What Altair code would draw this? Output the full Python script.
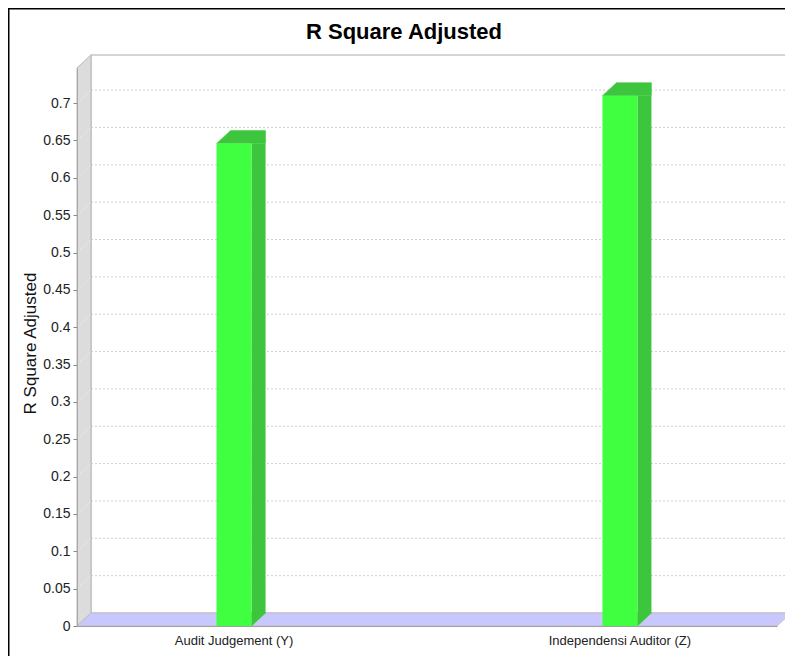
import altair as alt
import pandas as pd

# ---- data ----
categories = ["Audit Judgement (Y)", "Independensi Auditor (Z)"]
values = [0.646, 0.710]
tick_values = [0.0, 0.05, 0.1, 0.15, 0.2, 0.25, 0.3, 0.35, 0.4, 0.45,
               0.5, 0.55, 0.6, 0.65, 0.7]
axis_max = 0.747
chart_title = "R Square Adjusted"
y_title = "R Square Adjusted"

# ---- geometry / style ----
W, H = 700, 558
DX, DY = 14, 13
BW = 35
FRONT = "#40FF40"
DARK = "#3DC63D"
FONT = "Liberation Sans"
PAD = {"left": 69, "top": 60, "right": 8, "bottom": 30}

bars = pd.DataFrame({"cat": categories, "v": values})
grid_df = pd.DataFrame({"v": tick_values[1:]})
dummy = alt.Data(values=[{"a": 1}])

xscale = alt.Scale(domain=categories, paddingInner=0.5, paddingOuter=0.157)
yscale = alt.Scale(domain=[0, axis_max], nice=False, zero=True)

x_axis = alt.Axis(title=None, labelAngle=0, ticks=False, grid=False,
                  domain=True, domainColor="#A0A0A0",
                  labelPadding=8, labelFontSize=13, labelFont=FONT,
                  labelColor="#222222", zindex=1)
y_axis = alt.Axis(values=tick_values, format=".2~f", grid=False,
                  title=y_title, titleX=-47, titleY=275,
                  titleAngle=270, titleAlign="center",
                  titleBaseline="middle", titleFontSize=17,
                  titleFont=FONT, titleFontWeight="normal",
                  titleColor="#111111",
                  labelFontSize=14, labelFont=FONT,
                  labelColor="#222222", labelPadding=3,
                  tickSize=4, tickColor="#888888",
                  domain=True, domainColor="#A8A8A8", zindex=1)


def X():
    return alt.X("cat:N", scale=xscale, sort=categories, axis=x_axis)


def Y(field="v"):
    return alt.Y(f"{field}:Q", scale=yscale, axis=y_axis)


def shape_path(points, cx, cy, r):
    parts = []
    for i, (x, y) in enumerate(points):
        parts.append(("M" if i == 0 else "L") + f"{(x - cx) / r:.5f},{(y - cy) / r:.5f}")
    return " ".join(parts) + " Z"


def poly_layer(points, fill, stroke=None, sw=0.0):
    xs = [p[0] for p in points]
    ys = [p[1] for p in points]
    cx = (min(xs) + max(xs)) / 2
    cy = (min(ys) + max(ys)) / 2
    r = max(max(xs) - min(xs), max(ys) - min(ys)) / 2
    kw = dict(shape=shape_path(points, cx, cy, r), size=(2 * r) ** 2,
              filled=True, fill=fill, opacity=1)
    if stroke:
        kw.update(stroke=stroke, strokeWidth=sw)
    else:
        kw.update(strokeWidth=0)
    return alt.Chart(dummy).mark_point(**kw).encode(
        x=alt.value(cx), y=alt.value(cy))


# chart border
border = alt.Chart(dummy).mark_rect(
    fillOpacity=0, stroke="black", strokeWidth=3).encode(
    x=alt.value(-69), x2=alt.value(W + 40),
    y=alt.value(-60), y2=alt.value(H + 80))

# back wall
back = alt.Chart(dummy).mark_rect(
    fill="white", stroke="#C8C8C8", strokeWidth=1.5).encode(
    x=alt.value(DX), x2=alt.value(W + DX),
    y=alt.value(-DY), y2=alt.value(H - DY))

# grid lines on back wall
grid = alt.Chart(grid_df).mark_rule(
    yOffset=-DY, strokeDash=[2, 2], color="#D0D0D0", strokeWidth=1).encode(
    y=Y(), x=alt.value(DX), x2=alt.value(W + DX))

# left wall
left_wall = poly_layer([(0, H), (DX, H - DY), (DX, -DY), (0, 0)],
                       "#DCDCDC", "#B8B8B8", 1)

wall_diag = alt.Chart(grid_df).mark_rule(
    y2Offset=-DY, strokeDash=[2, 2], color="#EFEFEF", strokeWidth=1).encode(
    y=Y(), y2=alt.Y2("v:Q"),
    x=alt.value(0), x2=alt.value(DX))

# floor
floor = poly_layer([(0, H), (DX, H - DY), (W + DX, H - DY), (W, H)],
                   "#C8C8FF", "#C0C0C0", 1)

half = BW / 2
# side faces (rect part)
side = alt.Chart(bars).mark_bar(
    size=DX, xOffset=half + DX / 2, y2Offset=-DY, color=DARK).encode(
    x=X(), y=Y(), y2=alt.datum(0))

# bottom triangle of side face
tri_pts = [(half, -DY), (half + DX, -DY), (half, 0)]
r_tri = half + DX
bottom_tri = alt.Chart(bars).mark_point(
    shape=shape_path(tri_pts, 0, 0, r_tri), size=(2 * r_tri) ** 2,
    filled=True, fill=DARK, stroke=DARK, strokeWidth=0.5, opacity=1).encode(
    x=X(), y=Y("z")).transform_calculate(z="0")

# top face (+ top triangle of side face)
top_pts = [(-half, 0), (half + DX, 0), (half + DX, -DY), (-half + DX, -DY)]
r_top = half + DX
top_face = alt.Chart(bars).mark_point(
    shape=shape_path(top_pts, 0, 0, r_top), size=(2 * r_top) ** 2,
    filled=True, fill=DARK, stroke=DARK, strokeWidth=0.5, opacity=1).encode(
    x=X(), y=Y())

# front faces
front = alt.Chart(bars).mark_bar(size=BW, color=FRONT).encode(x=X(), y=Y())

title = alt.Chart(dummy).mark_text(
    text=chart_title, fontSize=22, fontWeight="bold", font=FONT,
    align="center", baseline="alphabetic", color="black").encode(
    x=alt.value(327), y=alt.value(-29))

chart = alt.layer(
    border, back, grid, left_wall, wall_diag, floor,
    side, bottom_tri, top_face, front, title
).properties(
    width=W, height=H,
    padding=PAD,
    autosize=alt.AutoSizeParams(type="none"),
    background="white",
).configure_view(stroke=None)

chart.save("out.html", embed_options={"renderer": "svg", "actions": False})
